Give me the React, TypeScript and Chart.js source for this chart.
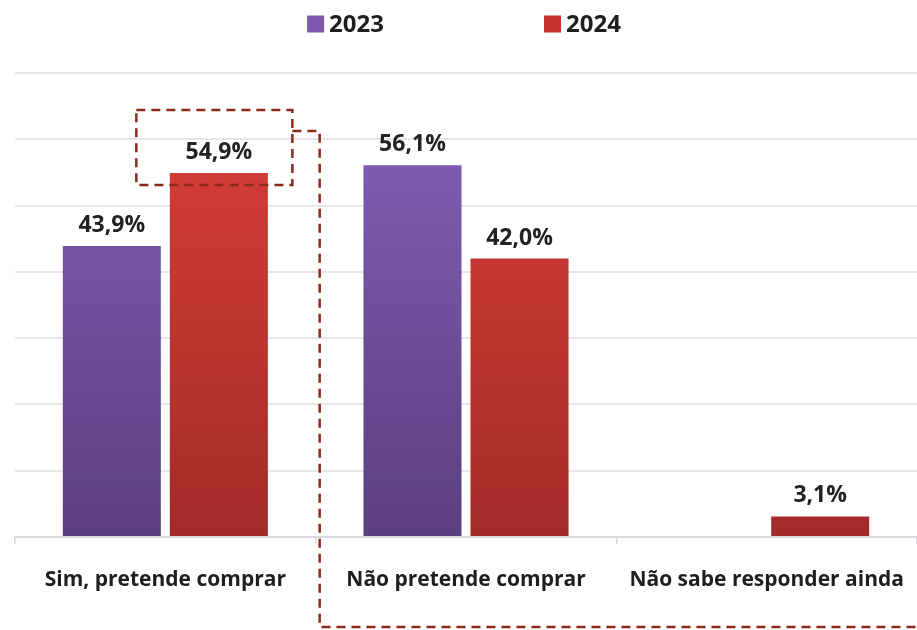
import React, { useEffect, useRef } from "react";
import { Chart, registerables } from "chart.js";

Chart.register(...registerables);

const categories = ["Sim, pretende comprar", "Não pretende comprar", "Não sabe responder ainda"];
const seriesNames = ["2023", "2024"];
const values2023: (number | null)[] = [43.9, 56.1, null];
const values2024: (number | null)[] = [54.9, 42.0, 3.1];
const yMin = 0;
const yMax = 70;
const yStep = 10;

const FONT = "'Open Sans', sans-serif";
const purpleTop = "#7D5AAF";
const purpleBottom = "#5C3F80";
const redTop = "#D23C37";
const redBottom = "#A32B28";
const legendColors = ["#7A58AC", "#C8342F"];
const dashColor = "#8A2B1B";

const fmt = (v: number) => v.toFixed(1).replace(".", ",") + "%";

function gradient(chart: any, top: string, bottom: string) {
  const ca = chart.chartArea;
  if (!ca) return top;
  const g = chart.ctx.createLinearGradient(0, ca.top + 90, 0, ca.bottom);
  g.addColorStop(0, top);
  g.addColorStop(1, bottom);
  return g;
}

const customLegend = {
  id: "customLegend",
  afterDraw(chart: any) {
    const ctx = chart.ctx;
    const ca = chart.chartArea;
    ctx.save();
    ctx.font = `700 24px ${FONT}`;
    ctx.textBaseline = "middle";
    ctx.textAlign = "left";
    const sq = 17;
    const gapText = 5;
    const gapItems = 160;
    const widths = seriesNames.map((s) => ctx.measureText(s).width);
    const total = widths.reduce((a, w) => a + sq + gapText + w, 0) + gapItems * (seriesNames.length - 1);
    let x = (ca.left + chart.width) / 2 - total / 2 - 2;
    const cy = 24;
    seriesNames.forEach((name, i) => {
      ctx.fillStyle = legendColors[i];
      ctx.fillRect(x, cy - sq / 2, sq, sq);
      ctx.fillStyle = "#1E1E1E";
      ctx.fillText(name, x + sq + gapText, cy + 1);
      x += sq + gapText + widths[i] + gapItems;
    });
    ctx.restore();
  },
};

const valueLabels = {
  id: "valueLabels",
  afterDatasetsDraw(chart: any) {
    const ctx = chart.ctx;
    ctx.save();
    ctx.font = `700 23px ${FONT}`;
    ctx.fillStyle = "#222222";
    ctx.textAlign = "center";
    ctx.textBaseline = "bottom";
    chart.data.datasets.forEach((ds: any, di: number) => {
      const meta = chart.getDatasetMeta(di);
      meta.data.forEach((bar: any, i: number) => {
        const v = ds.data[i];
        if (v === null || v === undefined) return;
        ctx.fillText(fmt(v), bar.x, bar.y - 9);
      });
    });
    ctx.restore();
  },
};

const highlight = {
  id: "highlight",
  afterDraw(chart: any) {
    const meta = chart.getDatasetMeta(1);
    const bar: any = meta.data[0];
    if (!bar) return;
    const xs = chart.scales.x;
    const ctx = chart.ctx;
    const left = bar.x - bar.width / 2 - 33.5;
    const right = bar.x + bar.width / 2 + 24.5;
    const top = bar.y - 63;
    const bottom = bar.y + 12;
    const sepX = (xs.getPixelForValue(0) + xs.getPixelForValue(1)) / 2 + 4;
    const connY = top + 21;
    ctx.save();
    ctx.strokeStyle = dashColor;
    ctx.lineWidth = 2.5;
    ctx.setLineDash([9, 6]);
    ctx.strokeRect(left, top, right - left, bottom - top);
    ctx.beginPath();
    ctx.moveTo(right, connY);
    ctx.lineTo(sepX, connY);
    ctx.lineTo(sepX, chart.height - 3);
    ctx.lineTo(chart.width, chart.height - 3);
    ctx.stroke();
    ctx.restore();
  },
};

export default function App() {
  const ref = useRef<HTMLCanvasElement | null>(null);
  useEffect(() => {
    document.body.style.margin = "0";
    const canvas = ref.current;
    if (!canvas) return;
    const chart = new Chart(canvas, {
      type: "bar",
      data: {
        labels: categories,
        datasets: [
          {
            label: seriesNames[0],
            data: values2023,
            backgroundColor: (c: any) => gradient(c.chart, purpleTop, purpleBottom),
            categoryPercentage: 0.712,
            barPercentage: 0.916,
          },
          {
            label: seriesNames[1],
            data: values2024,
            backgroundColor: (c: any) => gradient(c.chart, redTop, redBottom),
            categoryPercentage: 0.712,
            barPercentage: 0.916,
          },
        ],
      },
      options: {
        responsive: false,
        animation: false,
        layout: { padding: { top: 73, left: 15, right: 0, bottom: 0 } },
        plugins: {
          legend: { display: false },
          tooltip: { enabled: false },
        },
        scales: {
          x: {
            afterFit: (scale: any) => {
              scale.height = 93;
              scale.paddingLeft = 0;
              scale.paddingRight = 0;
            },
            grid: {
              display: true,
              drawOnChartArea: false,
              drawTicks: true,
              tickLength: 7,
              color: "#D8D8DE",
              lineWidth: 1.5,
            },
            border: { display: true, color: "#D8D8DE", width: 2 },
            ticks: {
              color: "#1E1E1E",
              font: { family: FONT, size: 21, weight: "700" as any },
              padding: 23,
              maxRotation: 0,
              autoSkip: false,
            },
          },
          y: {
            min: yMin,
            max: yMax,
            ticks: { display: false, stepSize: yStep },
            border: { display: false },
            grid: { color: "#E6E6EC", lineWidth: 2, drawTicks: false },
          },
        },
      },
      plugins: [customLegend, valueLabels, highlight],
    });
    return () => chart.destroy();
  }, []);
  return <canvas ref={ref} width={917} height={630} style={{ display: "block" }} />;
}
